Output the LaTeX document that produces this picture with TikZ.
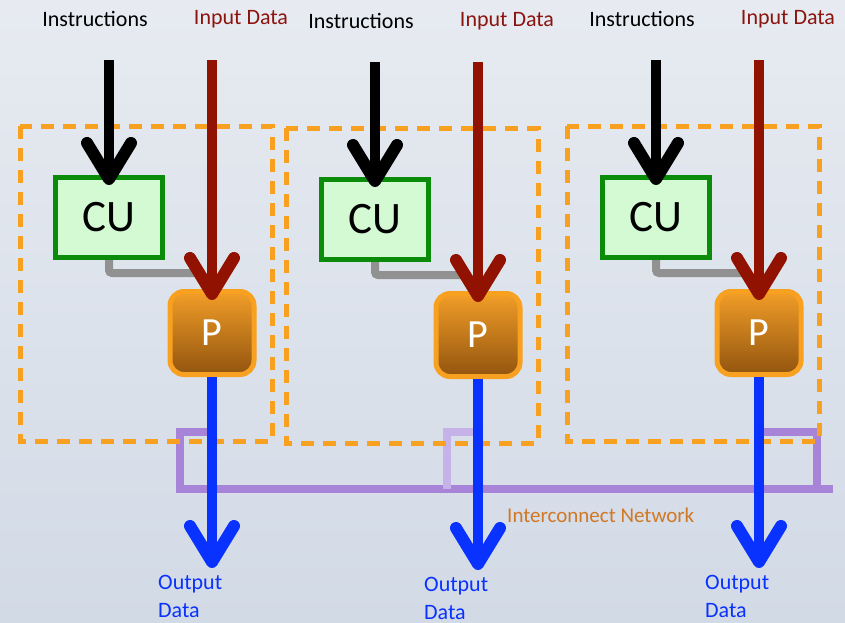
\documentclass[tikz,border=0pt]{standalone}
\usepackage{fontspec}
\setmainfont{Carlito}
\usetikzlibrary{arrows.meta}
\definecolor{bgtop}{RGB}{231,235,241}
\definecolor{bgbot}{RGB}{210,218,230}
\definecolor{dashorange}{RGB}{248,160,32}
\definecolor{cugreen}{RGB}{10,140,10}
\definecolor{cufill}{RGB}{212,250,212}
\definecolor{datared}{RGB}{145,18,0}
\definecolor{labelred}{RGB}{140,20,15}
\definecolor{outblue}{RGB}{10,50,255}
\definecolor{netpurple}{RGB}{167,132,216}
\definecolor{netlight}{RGB}{197,178,232}
\definecolor{linkgray}{RGB}{145,145,145}
\definecolor{ptop}{RGB}{242,158,40}
\definecolor{pbot}{RGB}{146,84,14}
\definecolor{nettext}{RGB}{208,120,36}
\begin{document}
\begin{tikzpicture}[x=1pt,y=-1pt,
  toplabel/.style={font=\fontsize{22}{26}\selectfont, inner sep=0pt},
  cubox/.style={draw=cugreen, fill=cufill, line width=5pt, minimum width=107pt,
    minimum height=80pt, font=\fontsize{45}{50}\selectfont, inner sep=0pt},
  pbox/.style={draw=dashorange, top color=ptop, bottom color=pbot, line width=5pt,
    rounded corners=14pt, minimum width=84pt, minimum height=83pt, text=white,
    font=\fontsize{40}{44}\selectfont, inner sep=0pt},
  region/.style={draw=dashorange, line width=5pt, dash pattern=on 13pt off 9pt},
  flow/.style={line width=10pt, -{Straight Barb[length=36pt,width=44pt,line width=12pt,round]}},
  link/.style={draw=linkgray, line width=8pt, rounded corners=3pt},
  net/.style={draw=netpurple, line width=8pt},
  outlabel/.style={text=outblue, font=\fontsize{22}{28}\selectfont, align=left,
    inner sep=0pt, anchor=north west},
]
\useasboundingbox (0,0) rectangle (845,622);
\shade[top color=bgtop, bottom color=bgbot] (0,0) rectangle (845,622);

% interconnect network
\coordinate (nl1) at (212,432);
\coordinate (nl2) at (180,432);
\coordinate (nl3) at (180,489);
\coordinate (nl4) at (833,489);
\draw[net] (nl1) -- (nl2) -- (nl3) -- (nl4);
\coordinate (nm1) at (478,432);
\coordinate (nm2) at (447,489);
\draw[net, draw=netlight] (nm1) -| (nm2);
\coordinate (nr1) at (759,432);
\coordinate (nr2) at (817,489);
\draw[net] (nr1) -| (nr2);
\node[anchor=west, text=nettext, font=\fontsize{21}{25}\selectfont, inner sep=0pt]
  (netlabel) at (507,515) {Interconnect Network};

% three processing elements
\foreach \dx/\dy/\c in {0/0/a,266/2/b,547/0/c}{
  \begin{scope}[shift={(\dx,\dy)}]
    \node[toplabel] (instr\c) at (95,19) {Instructions};
    \node[toplabel, text=labelred] (input\c) at (241,19) {Input Data};
    \coordinate (istart\c) at (109,60);
    \coordinate (dstart\c) at (212,60);
    \coordinate (dend\c) at (212,568);
    \coordinate (lk\c) at (204,273);
    \draw[region] (20,126) rectangle (272,441);
    \node[cubox] (cu\c) at (109,217.5) {CU};
    \node[pbox] (p\c) at (212,333) {P};
    \draw[link] (cu\c.south) |- (lk\c);
    \draw[flow, black, shorten >=-10pt] (istart\c) -- (cu\c.north);
    \draw[flow, datared, shorten >=-11pt] (dstart\c) -- (p\c.north);
    \draw[flow, outblue] (p\c.south) -- (dend\c);
    \node[outlabel] (out\c) at (158,575) {Output\\Data};
  \end{scope}
}
\end{tikzpicture}
\end{document}
